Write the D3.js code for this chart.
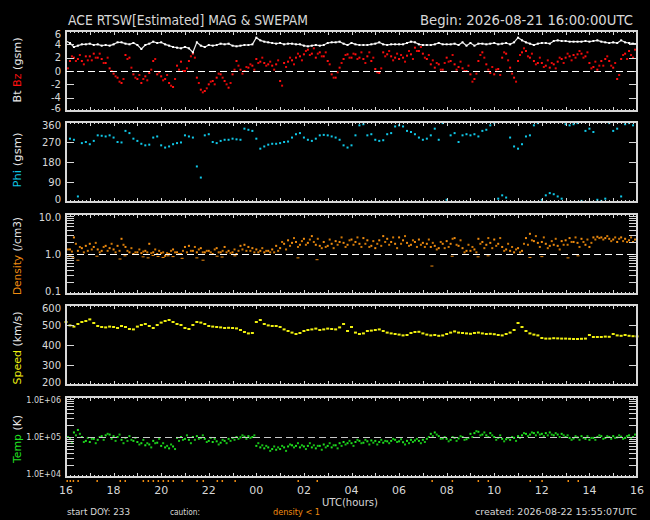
<!DOCTYPE html>
<html><head><meta charset="utf-8">
<script src="https://cdn.jsdelivr.net/npm/d3@7/dist/d3.min.js"></script>
<style>html,body{margin:0;padding:0;background:#000;}svg{display:block}</style>
</head><body><svg id="c" width="650" height="520"></svg>
<script>
// ---- data (10-minute samples from 2026-08-21 16:00 UTC) ----
const xTickLabels = ["16","18","20","22","00","02","04","06","08","10","12","14","16"];
const btLabels = ["6","4","2","0","-2","-4","-6"];
const phiLabels = ["360","270","180","90","0"];
const densLabels = ["10.0","1.0","0.1"];
const speedLabels = ["600","500","400","300","200"];
const tempLabels = ["1.0E+06","1.0E+05","1.0E+04"];

const btValues = [
4.5,4.2,3.6,3.8,4.0,4.0, 4.1,3.9,4.0,3.8,3.9,3.8, 4.0,4.3,4.3,4.1,4.0,4.2, 3.9,3.3,3.9,4.1,4.4,4.2,
4.3,4.0,3.8,3.6,3.5,3.4, 3.6,3.4,2.8,4.3,3.8,3.6, 3.9,3.8,3.9,4.1,4.0,4.1, 3.8,3.7,3.8,3.9,3.9,4.0,
5.0,4.6,4.4,4.3,4.2,4.1, 4.2,4.0,4.1,4.1,4.0,4.0, 3.8,3.7,3.8,3.9,3.8,3.9, 4.2,4.3,4.3,4.4,4.1,3.9,
4.2,4.0,3.9,3.9,3.9,4.0, 4.1,4.3,4.0,3.9,4.0,4.0, 4.0,4.0,4.2,4.4,4.3,4.0, 3.9,3.9,3.9,4.0,4.2,4.0,
4.0,4.0,4.1,3.9,4.3,3.8, 4.2,3.8,4.1,4.1,4.0,4.1, 4.2,4.0,4.1,4.2,4.0,4.3, 5.0,4.6,4.3,4.1,3.9,4.1,
4.2,4.2,4.1,4.5,4.6,4.5, 4.5,4.4,4.4,4.4,4.4,4.5, 4.4,4.5,4.6,4.4,4.3,4.2, 4.3,4.2,4.6,4.3,4.2,4.1, 4.1];

const bzValues = [
0.0,1.5,2.0,1.8,1.5,2.2, 2.2,2.6,2.0,1.8,1.2,0.4, -0.4,-1.0,-1.8,2.4,2.0,-0.5, -1.2,-1.8,-0.8,-0.3,1.5,-0.5,
-0.8,-1.2,-1.8,-2.4,0.8,1.4, 0.0,1.5,2.6,-1.0,-2.8,-3.0, -2.0,-1.5,-1.0,-0.5,-1.5,-2.5, -0.5,1.5,0.2,0.0,0.5,0.8,
1.8,1.4,1.2,1.0,0.8,1.0, -1.5,1.2,1.4,1.6,2.0,2.2, 2.5,3.2,2.6,2.0,2.8,2.2, 1.5,-0.5,-1.0,0.5,1.8,2.5,
2.0,2.5,2.0,1.8,2.2,1.5, 0.3,-0.3,2.8,2.5,2.2,2.0, 1.8,2.0,2.3,2.5,3.5,3.0, 2.6,1.8,1.0,0.5,1.0,0.2,
2.0,1.5,1.0,0.6,0.4,0.0, -0.5,-1.2,1.5,2.8,1.0,-0.3, -0.5,0.3,2.0,2.6,0.5,-1.0, 1.5,2.8,3.0,2.0,1.5,1.2,
1.2,0.8,0.5,1.0,1.4,1.8, 2.0,2.2,2.4,2.5,2.6,2.2, 1.2,0.6,0.2,1.5,1.8,1.5, 0.5,-1.2,1.8,2.6,3.0,2.0, 1.0];
// second Bz reading in each 10-minute bin (+5 min)
const bzValues2 = [
0.4,2.2,1.5,2.4,1.0,1.6, 1.6,2.0,2.6,1.2,2.0,0.0, -0.8,-1.6,-1.2,1.8,0.5,-1.0, -0.6,-1.2,-1.4,0.2,1.8,-0.2,
-1.4,-0.6,-2.2,-1.2,0.2,0.0, 0.4,2.2,2.0,-1.8,-3.2,-2.6, -1.6,-2.0,-0.4,-1.0,-2.0,-1.8, 0.2,0.8,-0.4,0.6,1.0,0.2,
1.2,2.0,0.8,1.4,0.2,1.6, -2.2,0.6,2.0,1.0,2.6,1.6, 3.0,2.4,3.4,2.6,2.2,2.8, 1.0,-1.0,-0.2,1.2,2.4,2.0,
2.6,1.8,2.8,1.2,2.8,2.0, -0.2,0.4,2.2,3.0,1.6,2.6, 2.4,1.4,3.0,1.8,3.0,3.6, 2.0,2.4,1.6,1.2,0.2,1.2,
1.4,2.4,0.2,1.4,0.0,0.8, -1.6,-0.4,2.4,2.0,0.2,0.6, 0.2,-0.6,2.8,1.6,-0.4,-1.6, 2.4,3.4,2.2,2.6,1.0,2.0,
0.6,1.6,1.2,0.4,2.0,1.2, 2.6,1.6,2.0,3.0,2.0,2.8, 0.4,1.4,0.8,0.8,2.2,0.8, 1.2,-0.6,2.4,1.8,2.4,3.2];

const phiValues = [
250,285,280,25,265,270, 260,275,300,298,295,300, 290,270,268,320,310,285, 275,262,255,258,290,295,
255,245,250,260,265,268, 300,295,290,160,110,300, 305,270,265,275,280,280, 285,282,280,330,325,320,
285,240,250,258,262,262, 265,270,272,290,305,310, 290,280,275,285,300,302, 300,295,290,280,255,245,
255,300,345,350,300,305, 280,275,278,305,310,340, 345,340,320,315,305,290, 280,285,300,330,280,355,
10,300,310,270,300,305, 300,305,295,320,325,345, 355,15,30,20,290,250, 240,260,295,300,345,355,
10,30,40,35,25,15, 350,345,350,355,5,320, 330,315,10,5,15,355, 320,330,25,350,355,345, 350];

const densityValues = [
1.1,1.3,2.6,1.2,1.4,1.6, 1.8,1.5,1.3,1.2,1.6,1.4, 1.3,1.6,2.4,1.5,1.1,1.0, 1.1,1.05,1.2,1.8,1.1,1.0,
1.05,0.9,1.0,1.3,1.1,1.0, 1.5,1.6,1.2,1.1,1.4,1.1, 1.2,1.0,1.4,1.1,1.5,1.2, 1.1,1.0,1.6,1.7,1.5,1.4,
1.3,1.2,1.1,1.2,1.3,1.6, 1.4,1.8,2.2,1.9,2.0,1.7, 2.4,1.9,2.8,1.7,1.6,2.0, 1.6,1.8,2.1,2.0,1.9,1.7,
2.3,2.0,1.8,2.5,2.2,1.6, 1.4,2.2,2.8,2.4,2.0,1.8, 2.6,2.2,1.9,1.7,2.0,2.3, 1.9,1.8,1.5,1.6,1.4,1.8,
2.1,1.8,2.5,1.6,1.4,1.2, 1.2,1.3,2.4,2.0,1.7,1.9, 2.3,1.8,1.5,1.3,1.2,1.1, 1.4,1.2,2.5,3.2,2.1,1.9,
2.0,1.8,1.6,1.7,1.6,2.1, 2.2,2.5,2.0,1.9,2.4,1.7, 1.5,2.6,2.7,2.6,2.5,2.4, 2.3,2.0,2.6,2.4,2.2,2.0, 2.1];
const densityValues2 = [
1.3,1.15,1.8,1.5,1.1,1.2, 1.3,1.9,1.1,1.5,1.2,1.8, 1.1,1.2,1.7,1.2,1.4,1.1, 1.3,1.15,1.1,1.05,1.3,1.2,
1.1,1.05,1.2,1.1,1.0,1.2, 1.1,1.2,1.5,1.3,1.1,1.2, 1.1,1.3,1.1,1.2,1.1,1.05, 1.3,1.2,1.3,1.2,1.2,1.1,
1.1,1.4,1.2,1.1,1.1,1.2, 2.0,1.3,1.6,2.5,1.5,2.1, 1.7,2.3,2.0,2.4,1.4,1.5, 2.3,1.4,1.7,2.6,1.5,2.2,
1.7,2.6,1.5,1.8,1.5,2.1, 1.8,1.6,2.0,1.7,2.6,1.4, 1.8,2.8,1.6,2.2,1.5,1.7, 1.5,2.3,1.9,1.3,2.0,1.4,
1.5,2.4,1.7,2.2,1.1,1.7, 1.5,1.1,1.8,1.4,2.5,1.4, 1.6,2.5,1.2,1.8,1.5,1.3, 1.1,1.8,1.7,2.2,2.8,1.5,
2.6,1.4,2.1,2.4,1.3,1.7, 1.7,2.0,2.6,1.5,2.0,2.3, 1.9,2.3,2.5,2.3,2.8,2.1, 2.6,2.4,2.1,2.0,2.6,2.3];

// times (hours after 16:00) flagged "density < 1", with their density values
const cautionHours = [0.04,0.17,0.3,0.5,1.3,2.27,2.48,3.24,3.45,3.66,3.87,4.08,4.29,4.5,4.88,5.5,5.76,6.35,6.56,7.1,9.75,10.55,15.38,16.23,17.32,17.74,19.5,20.0,21.1,21.52];
const cautionDensity = [0.85,0.9,0.8,0.7,0.88,0.75,0.9,0.85,0.8,0.92,0.87,0.82,0.9,0.86,0.78,0.8,0.7,0.88,0.84,0.9,0.8,0.72,0.5,0.88,0.85,0.9,0.82,0.86,0.8,0.9];

const speedValues = [
515,498,492,505,515,520, 528,510,495,490,488,492, 490,485,495,490,480,478, 492,500,505,495,485,500,
512,520,525,515,505,500, 485,480,500,515,512,505, 495,492,490,488,485,486, 485,483,475,465,458,460,
515,525,505,498,495,495, 490,478,470,462,455,460, 470,475,478,482,475,478, 482,480,478,488,505,470,
490,462,455,458,470,472, 475,478,470,462,458,455, 452,448,450,460,465,466, 458,452,448,450,446,448,
455,462,468,462,460,458, 456,460,462,458,455,456, 454,450,448,455,462,475, 510,490,470,458,452,448,
435,432,432,434,433,432, 432,431,430,430,431,432, 450,440,440,440,442,441, 455,448,446,450,446,444, 443];

// temperature in units of 1e5 K
const tempValues = [
0.85,0.9,1.3,1.5,1.0,0.8, 0.75,0.9,0.85,1.05,1.1,1.15, 1.05,1.0,0.85,0.95,1.05,0.8, 0.75,0.7,0.62,0.65,0.8,0.72,
0.6,0.55,0.52,0.58,0.95,1.0, 0.9,0.85,1.0,1.05,0.95,0.9, 0.8,0.75,0.78,0.72,0.8,0.9, 0.95,1.0,0.98,1.02,1.05,1.0,
0.6,0.55,0.52,0.55,0.5,0.48, 0.5,0.55,0.58,0.62,0.6,0.55, 0.58,0.6,0.55,0.52,0.6,0.65, 0.6,0.55,0.62,0.7,0.75,0.7,
0.7,0.75,0.8,0.72,0.78,0.82, 0.8,0.75,0.72,0.78,0.8,0.85, 0.78,0.74,0.8,0.85,0.82,0.8, 0.85,0.9,1.2,1.3,1.05,0.92,
0.9,0.85,0.95,0.92,1.0,0.88, 1.2,1.25,1.35,1.15,1.1,1.25, 1.0,0.95,0.9,0.88,0.85,0.95, 1.05,1.1,1.2,1.15,1.25,1.3,
1.2,1.25,1.3,1.1,1.15,1.2, 1.0,0.95,0.92,0.98,1.05,0.9, 0.85,0.95,1.0,1.05,0.95,1.0, 1.05,0.98,1.02,0.95,1.1,1.0, 1.0];
const tempValues2 = [
1.0,0.7,1.1,1.2,0.75,0.95, 0.9,0.7,1.0,0.85,1.2,0.9, 0.8,1.15,0.7,0.8,0.85,0.95, 0.65,0.85,0.7,0.55,0.7,0.9,
0.7,0.6,0.65,0.5,0.8,0.85, 1.1,0.7,0.85,0.9,1.1,0.75, 0.95,0.9,0.65,0.85,0.7,0.8, 0.85,0.9,1.1,0.9,0.95,1.1,
0.7,0.62,0.6,0.45,0.58,0.55, 0.6,0.45,0.65,0.55,0.7,0.62, 0.5,0.7,0.62,0.6,0.48,0.55, 0.7,0.62,0.52,0.6,0.65,0.8,
0.6,0.85,0.7,0.85,0.65,0.72, 0.65,0.85,0.8,0.7,0.9,0.75, 0.88,0.65,0.7,0.75,0.9,0.7, 0.75,1.0,1.05,1.15,0.9,1.0,
0.78,1.0,0.8,1.05,0.85,0.95, 1.0,1.4,1.1,1.3,1.0,1.1, 0.85,1.1,0.78,0.95,1.0,0.8, 0.95,1.25,1.05,1.3,1.1,1.15,
1.05,1.1,1.15,1.25,1.0,1.1, 1.1,0.85,1.05,0.85,0.95,1.05, 0.95,0.85,1.1,0.9,1.05,0.9, 0.95,1.1,0.9,1.05,0.95,1.15];

// ---- drawing ----
const svg = d3.select("#c");
const W = 650, H = 520;
svg.append("rect").attr("width", W).attr("height", H).attr("fill", "#000");
const FG = "#d8d8d8";
const FONT = "'DejaVu Sans', 'Liberation Sans', sans-serif";
const x = d3.scaleLinear().domain([0, 24]).range([66, 637]);
const times = btValues.map((_, i) => i / 6);
const times2 = bzValues2.map((_, i) => i / 6 + 1 / 12);
const PH = 80;

const panels = [
  {top: 31, y: d3.scaleLinear().domain([-6, 6]), major: [6,4,2,0,-2,-4,-6], labels: btLabels, minor: [], dash: 0, lfs: 10},
  {top: 122, y: d3.scaleLinear().domain([0, 360]), major: [360,270,180,90,0], labels: phiLabels, minor: [], dash: null, lfs: 10},
  {top: 214, y: d3.scaleLog().domain([0.1, 10]), major: [10,1,0.1], labels: densLabels,
     minor: [0.2,0.3,0.4,0.5,0.6,0.7,0.8,0.9,2,3,4,5,6,7,8,9], dash: 1, lfs: 10},
  {top: 305, y: d3.scaleLinear().domain([200, 600]), major: [600,500,400,300,200], labels: speedLabels, minor: [], dash: null, lfs: 10},
  {top: 397, y: d3.scaleLog().domain([1e4, 1e6]), major: [1e6,1e5,1e4], labels: tempLabels,
     minor: [2e4,3e4,4e4,5e4,6e4,7e4,8e4,9e4,2e5,3e5,4e5,5e5,6e5,7e5,8e5,9e5], dash: 1e5, lfs: 8}
];
panels.forEach(p => p.y.range([p.top + PH, p.top]));

// data layers
const gData = svg.append("g");
function dots(panel, xs, vals, color, w = 2, h = 2) {
  gData.append("g").selectAll("rect").data(vals).join("rect")
    .attr("x", (d, i) => x(xs[i]) - w / 2)
    .attr("y", d => panel.y(d) - h / 2)
    .attr("width", w).attr("height", h).attr("fill", color);
}
// Bz then Bt
dots(panels[0], times, bzValues, "#ff1010", 2, 2);
dots(panels[0], times2, bzValues2, "#e00808", 2, 2);
gData.append("path").datum(btValues)
  .attr("d", d3.line().x((d, i) => x(times[i])).y(d => panels[0].y(d)))
  .attr("fill", "none").attr("stroke", "#e8e8e8").attr("stroke-width", 1.2);
dots(panels[0], times, btValues, "#ffffff", 2, 2);
// Phi
dots(panels[1], times, phiValues, "#10c8e8", 2, 2);
// Density
dots(panels[2], times, densityValues, "#f08c10", 2, 2);
dots(panels[2], times2, densityValues2, "#d07808", 2, 2);
dots(panels[2], cautionHours, cautionDensity, "#f08c10", 3, 1);
// Speed
dots(panels[3], times, speedValues, "#f0f010", 3, 2);
// Temp
dots(panels[4], times, tempValues.map(v => v * 1e5), "#20e020", 2, 2);
dots(panels[4], times2, tempValues2.map(v => v * 1e5), "#18c018", 2, 2);

// frames, ticks, labels
const gAx = svg.append("g").attr("stroke", FG).attr("stroke-width", 1).attr("shape-rendering", "crispEdges");
panels.forEach(p => {
  const yT = p.top, yB = p.top + PH;
  gAx.append("rect").attr("x", 66).attr("y", yT).attr("width", 571).attr("height", PH).attr("fill", "none").attr("stroke-width", 1.5);
  for (let k = 1; k < 144; k++) {
    const len = (k % 6 === 0) ? 4 : 2;
    const xx = Math.round(x(k / 6)) + 0.5;
    gAx.append("line").attr("x1", xx).attr("x2", xx).attr("y1", yB).attr("y2", yB - len);
    gAx.append("line").attr("x1", xx).attr("x2", xx).attr("y1", yT).attr("y2", yT + len);
  }
  const ticks = p.major.concat(p.minor);
  ticks.forEach(t => {
    const yy = Math.round(p.y(t)) + 0.5;
    gAx.append("line").attr("x1", 66).attr("x2", 74).attr("y1", yy).attr("y2", yy);
    gAx.append("line").attr("x1", 629).attr("x2", 637).attr("y1", yy).attr("y2", yy);
  });
  const n = p.major.length;
  p.major.forEach((t, i) => {
    let yy = p.y(t);
    if (i === 0) yy += 3;
    if (i === n - 1) yy -= 3;
    svg.append("text").attr("x", 61).attr("y", yy).attr("dy", "0.36em")
      .attr("text-anchor", "end").attr("fill", FG).attr("font-family", FONT)
      .attr("font-size", p.lfs).text(p.labels[i]);
  });
  if (p.dash !== null) {
    const yy = Math.round(p.y(p.dash)) + 0.5;
    svg.append("line").attr("x1", 66).attr("x2", 637).attr("y1", yy).attr("y2", yy)
      .attr("stroke", p.dash === 1e5 ? "#c8c8c8" : "#ffffff").attr("stroke-width", 1.5)
      .attr("stroke-dasharray", "7,4").attr("shape-rendering", "crispEdges");
  }
});

// caution markers below bottom axis
svg.append("g").selectAll("rect").data(cautionHours).join("rect")
  .attr("x", d => x(d) - 0.5).attr("y", 480).attr("width", 1.5).attr("height", 2).attr("fill", "#f08c10");

// x tick labels
xTickLabels.forEach((l, i) => {
  svg.append("text").attr("x", x(i * 2)).attr("y", 494).attr("text-anchor", "middle")
    .attr("fill", FG).attr("font-family", FONT).attr("font-size", 11).text(l);
});

function txt(s, xx, yy, opts = {}) {
  const t = svg.append("text").attr("x", xx).attr("y", yy).attr("fill", opts.fill || FG)
    .attr("font-family", FONT).attr("font-size", opts.fs || 11)
    .attr("text-anchor", opts.anchor || "start").text(s);
  if (opts.len) t.attr("textLength", opts.len).attr("lengthAdjust", "spacingAndGlyphs");
  return t;
}
txt("UTC(hours)", 322, 506, {fs: 11, len: 56});
txt("ACE RTSW[Estimated] MAG & SWEPAM", 68, 25, {fs: 14, len: 240});
txt("Begin: 2026-08-21 16:00:00UTC", 420, 25, {fs: 14, len: 213});
txt("start DOY: 233", 67, 515, {fs: 8.5, len: 63});
txt("caution:", 170, 515, {fs: 8.5, len: 30});
txt("density < 1", 273, 515, {fs: 8.5, len: 47, fill: "#f08c10"});
txt("created: 2026-08-22 15:55:07UTC", 475, 515, {fs: 8.5, len: 162});

// rotated axis titles
const titles = [
  {cy: 70, len: 65, parts: [["Bt ", "#e8e8e8"], ["Bz", "#ff1010"], [" (gsm)", "#e8e8e8"]]},
  {cy: 160, len: 55, parts: [["Phi", "#10c8e8"], [" (gsm)", "#e8e8e8"]]},
  {cy: 256, len: 78, parts: [["Density", "#f08c10"], [" (/cm3)", "#e8e8e8"]]},
  {cy: 348, len: 73, parts: [["Speed", "#f0f010"], [" (km/s)", "#e8e8e8"]]},
  {cy: 439, len: 48, parts: [["Temp", "#20e020"], [" (K)", "#e8e8e8"]]}
];
titles.forEach(tt => {
  const t = svg.append("text").attr("x", 0).attr("y", 0)
    .attr("transform", `translate(21,${tt.cy}) rotate(-90)`)
    .attr("text-anchor", "middle").attr("font-family", FONT).attr("font-size", 11)
    .attr("textLength", tt.len).attr("lengthAdjust", "spacingAndGlyphs");
  tt.parts.forEach(([s, c]) => t.append("tspan").attr("fill", c).text(s));
});
</script></body></html>
